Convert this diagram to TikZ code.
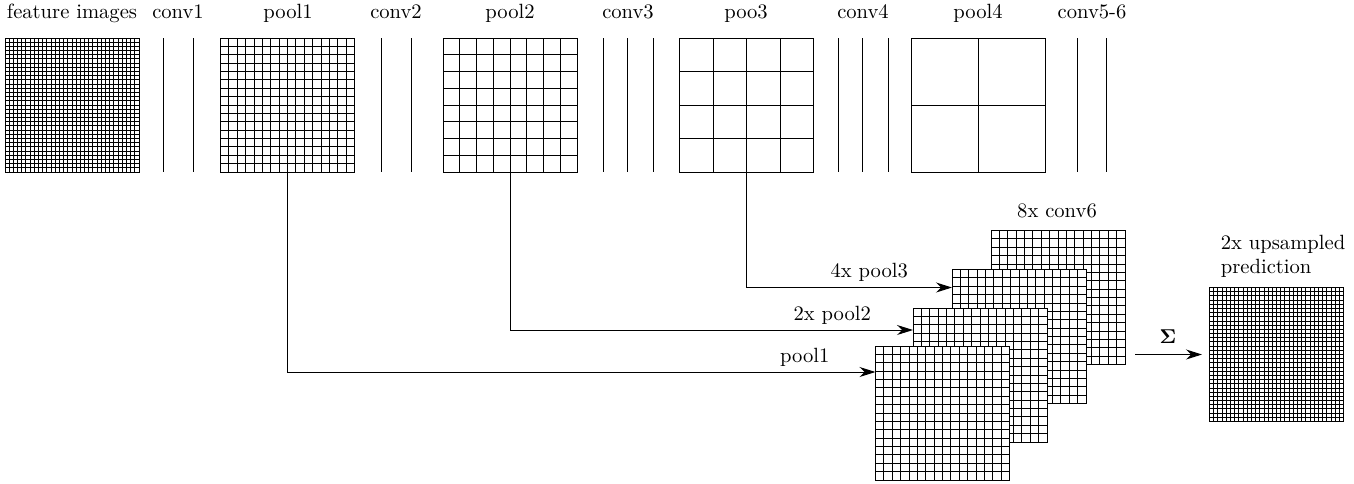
\documentclass[tikz,border=0pt]{standalone}
\usetikzlibrary{arrows.meta}
\begin{document}
\begin{tikzpicture}[x=0.5pt, y=-0.5pt,
    every node/.style={font=\fontsize{10.3}{12}\selectfont},
    fmap/.style={draw, line width=0.5pt, fill=white, inner sep=0pt, outer sep=0pt, minimum size=67pt,
      path picture={\draw[line width=0.45pt, step=#1] (-33.5pt,-33.5pt) grid (33.5pt,33.5pt);}},
    convline/.style={line width=0.5pt},
    arr/.style={line width=0.5pt, -{Stealth[length=8pt, width=5pt]}}]
    \useasboundingbox (0,0) rectangle (1354,483);
    % top row: labels
    \node[anchor=base] (tfeat) at (72,18) {feature images};
    \node[anchor=base] (tconv1) at (178,18) {conv1};
    \node[anchor=base] (tpool1) at (288,18) {pool1};
    \node[anchor=base] (tconv2) at (396,18) {conv2};
    \node[anchor=base] (tpool2) at (510,18) {pool2};
    \node[anchor=base] (tconv3) at (628,18) {conv3};
    \node[anchor=base] (tpool3) at (746,18) {poo3};
    \node[anchor=base] (tconv4) at (863,18) {conv4};
    \node[anchor=base] (tpool4) at (978,18) {pool4};
    \node[anchor=base] (tconv56) at (1092,18) {conv5-6};
    % top row: maps
    \node[fmap=2.09375pt] (feat) at (72,105) {};
    \node[fmap=4.1875pt] (pool1) at (287.5,105) {};
    \node[fmap=8.375pt] (pool2) at (510,105) {};
    \node[fmap=16.75pt] (pool3) at (746.5,105) {};
    \node[fmap=33.5pt] (pool4) at (978.5,105) {};
    \foreach \x in {163,193,381,411,603,627,653,838,862,888,1077,1106}
      \draw[convline] (\x,38) -- (\x,172);
    % stacked maps
    \node[anchor=base] (tconv6) at (1057,217) {8x conv6};
    \node[fmap=4.1875pt] (s4) at (1058,297.5) {};
    \node[fmap=4.1875pt] (s3) at (1019,336.5) {};
    \node[fmap=4.1875pt] (s2) at (980,375) {};
    \node[fmap=4.1875pt] (s1) at (942.5,413) {};
    % skip connections
    \draw[arr] (pool3.south) |- ([yshift=-9pt]s3.north west)
      node[anchor=base east, xshift=-18.5pt, yshift=5pt] (lpool3) {4x pool3};
    \draw[arr] (pool2.south) |- ([yshift=-11pt]s2.north west)
      node[anchor=base east, xshift=-17.5pt, yshift=5pt] (lpool2) {2x pool2};
    \draw[arr] (pool1.south) |- ([yshift=-13pt]s1.north west)
      node[anchor=base east, xshift=-19.5pt, yshift=5pt] (lpool1) {pool1};
    % output
    \node[fmap=2.09375pt] (out) at (1276.5,354.5) {};
    \node[anchor=south west, align=left, inner sep=0pt] (tout) at ([xshift=5.5pt, yshift=5pt]out.north west) {2x upsampled\\prediction};
    \coordinate (sumin) at (1135,354.5);
    \coordinate (sumout) at (1202,354.5);
    \draw[arr] (sumin) -- (sumout);
    \node[anchor=base] (sum) at (1168,343) {$\mathbf{\Sigma}$};
\end{tikzpicture}
\end{document}
